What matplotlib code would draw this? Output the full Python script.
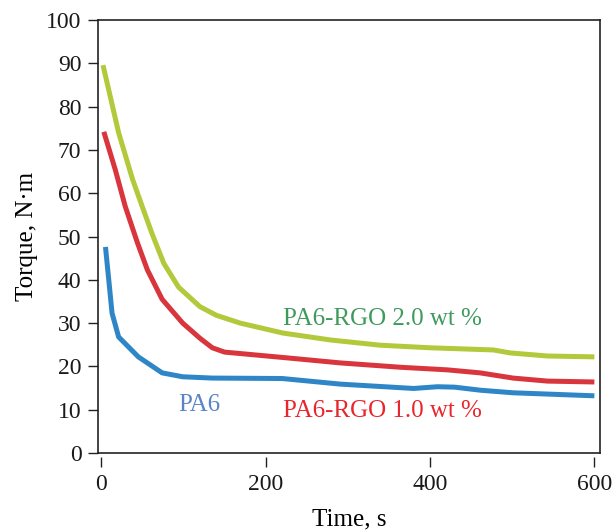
import matplotlib
matplotlib.use("Agg")
import matplotlib.pyplot as plt

# Torque vs time
time_rgo20 = [2, 21, 38, 50, 62, 76, 94, 120, 140, 169, 221, 279, 339, 400, 477, 498, 543, 600]
torque_rgo20 = [89.6, 74.0, 63.2, 56.8, 50.5, 43.8, 38.3, 33.8, 31.8, 30.0, 27.7, 26.1, 24.9, 24.3, 23.8, 23.1, 22.4, 22.2]

time_rgo10 = [3, 17, 29, 44, 56, 74, 99, 120, 135, 150, 230, 291, 364, 421, 461, 501, 543, 600]
torque_rgo10 = [74.2, 65.4, 57.0, 48.5, 42.3, 35.5, 30.0, 26.5, 24.3, 23.3, 21.9, 20.8, 19.8, 19.2, 18.5, 17.3, 16.6, 16.4]

time_pa6 = [5, 9, 13, 21, 45, 74, 99, 135, 220, 291, 380, 409, 430, 461, 501, 600]
torque_pa6 = [47.6, 40.0, 32.3, 26.8, 22.2, 18.5, 17.6, 17.3, 17.2, 15.9, 14.9, 15.3, 15.2, 14.5, 13.9, 13.2]

x_ticks = [0, 200, 400, 600]
y_ticks = list(range(0, 101, 10))

plt.rcParams["font.family"] = ["Liberation Serif", "DejaVu Serif"]

fig = plt.figure(figsize=(6.13, 5.31), dpi=100)
ax = fig.add_axes([0.160, 0.147, 0.819, 0.815])

line_kw = dict(lw=3.6, solid_capstyle="butt", solid_joinstyle="round")
ax.plot(time_rgo20, torque_rgo20, color="#b3c93b", **line_kw)
ax.plot(time_rgo10, torque_rgo10, color="#d8363c", **line_kw)
ax.plot(time_pa6, torque_pa6, color="#2e86c6", **line_kw)

ax.text(221, 31, "PA6-RGO 2.0 wt %", color="#3e9a5c", fontsize=18, va="center")
ax.text(94, 11, "PA6", color="#5b84c8", fontsize=18, va="center")
ax.text(221, 9.7, "PA6-RGO 1.0 wt %", color="#e8262c", fontsize=18, va="center")

ax.set_xlim(-4, 607)
ax.set_ylim(0, 100)
ax.set_xticks(x_ticks)
ax.set_yticks(y_ticks)

# x ticks hang below the frame with a small gap
ax.spines["bottom"].set_position(("outward", 3))
ax.spines["bottom"].set_visible(False)
ax.axhline(0, color="#222222", lw=1.2, clip_on=False)
for s in ["left", "top", "right"]:
    ax.spines[s].set_color("#222222")
    ax.spines[s].set_linewidth(1.2)

ax.tick_params(axis="both", direction="out", length=7, width=1, colors="#222222",
               labelsize=17, labelcolor="#1a1a1a")
ax.tick_params(axis="y", pad=5)
ax.tick_params(axis="x", pad=5)

ax.set_xlabel("Time, s", fontsize=18, labelpad=10)
ax.set_ylabel("Torque, N·m", fontsize=18, labelpad=6)

fig.savefig("out.png", dpi=100, facecolor="white")
